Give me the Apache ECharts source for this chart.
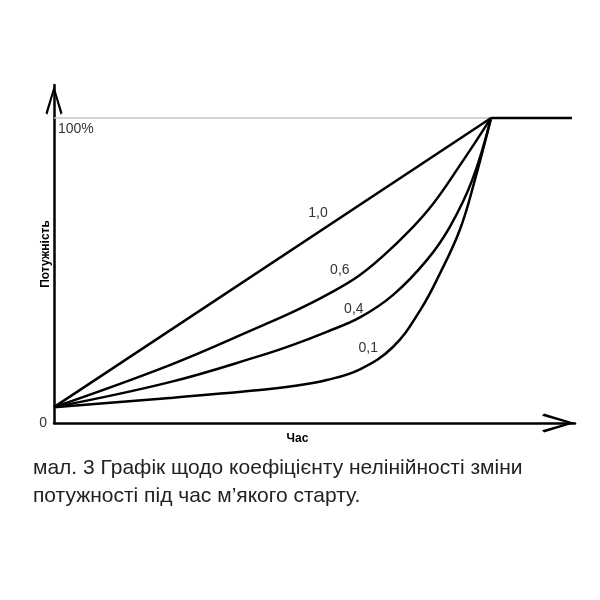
<!DOCTYPE html>
<html>
<head>
<meta charset="utf-8">
<script src="https://cdn.jsdelivr.net/npm/echarts@6/dist/echarts.min.js"></script>
<style>html,body{margin:0;padding:0;background:#fff}#c{width:600px;height:600px}</style>
</head>
<body>
<div id="c"></div>
<script>
// Data (time as % of ramp, power %)
const curve10X = [0, 100];
const curve10Y = [5.2, 100];
const curve06X = [0, 26.5, 47.1, 54.8, 62.4, 70.0, 77.6, 85.6, 93.4, 100];
const curve06Y = [5.2, 19.0, 31.6, 36.5, 42.0, 48.5, 57.8, 69.8, 85.6, 100];
const curve04X = [0, 26.5, 47.1, 54.8, 62.4, 70.0, 77.6, 85.3, 90.6, 95.7, 100];
const curve04Y = [5.2, 13.4, 22.0, 25.7, 29.9, 34.6, 42.0, 53.4, 64.4, 79.7, 100];
const curve01X = [0, 26.5, 47.1, 54.8, 62.4, 70.0, 77.6, 83.8, 88.3, 92.9, 96.3, 100];
const curve01Y = [5.2, 8.2, 10.8, 12.1, 14.1, 17.6, 25.0, 37.0, 49.0, 63.5, 79.7, 100];
const plateauX = [100, 118.5];
const plateauY = [100, 100];
const curveNames = ['1,0', '0,6', '0,4', '0,1'];
const yTickLabels = ['0', '100%'];
const yTickValues = [0, 100];
const xAxisName = 'Час';
const yAxisName = 'Потужність';
const caption = 'мал. 3 Графік щодо коефіцієнту нелінійності зміни\nпотужності під час м’якого старту.';

const labelAnchors = [[60.4, 68.9], [65.4, 50.0], [68.6, 37.2], [71.9, 24.6]];

function zip(xs, ys) { return xs.map((x, i) => [x, ys[i]]); }
const curves = [zip(curve10X, curve10Y), zip(curve06X, curve06Y), zip(curve04X, curve04Y), zip(curve01X, curve01Y)];

const FONT = 'Liberation Sans';
const arrowPath = 'path://M9.5,0 L19,31 L16.8,33 L9.5,7.5 L2.2,33 L0,31 Z';

const series = curves.map((d, i) => {
  const s = {
    type: 'line',
    data: d,
    smooth: i === 0 ? false : 0.4,
    showSymbol: false,
    symbol: 'none',
    clip: false,
    lineStyle: { color: '#000', width: 2.5 },
    z: 5,
    markPoint: {
      symbol: 'circle', symbolSize: 0,
      label: { show: true, position: 'inside', formatter: '{b}', color: '#333', fontSize: 14, fontFamily: FONT },
      data: [{ name: curveNames[i], coord: labelAnchors[i] }]
    }
  };
  if (i === 0) {
    s.markLine = {
      silent: true, symbol: 'none',
      lineStyle: { color: '#c4c4c4', width: 1.5, type: 'solid' },
      label: { show: true, position: 'insideStartBottom', formatter: yTickLabels[1], color: '#333', fontSize: 14, fontFamily: FONT, distance: [4, 4] },
      data: [[{ coord: [0, yTickValues[1]] }, { coord: [100, yTickValues[1]] }]],
      z: 1
    };
  }
  return s;
});
series.push({
  type: 'line', data: zip(plateauX, plateauY), smooth: false, showSymbol: false, symbol: 'none', clip: false,
  lineStyle: { color: '#000', width: 2.5 }, z: 5
});

const chart = echarts.init(document.getElementById('c'), null, { renderer: 'canvas' });
chart.setOption({
  animation: false,
  backgroundColor: '#fff',
  title: {
    text: caption, left: 33, top: 454, padding: 0,
    textStyle: { fontFamily: FONT, fontSize: 21, fontWeight: 'normal', color: '#222', lineHeight: 28 }
  },
  grid: { left: 54, right: 25, top: 85, bottom: 177 },
  xAxis: {
    type: 'value', min: 0, max: 119.2,
    name: xAxisName, nameLocation: 'middle', nameGap: 10, nameMoveOverlap: false,
    nameTextStyle: { fontFamily: FONT, fontSize: 12, fontWeight: 'bold', color: '#000', padding: [0, 34, 0, 0] },
    axisLine: { show: true, lineStyle: { color: '#000', width: 2.5 }, symbol: ['none', arrowPath], symbolSize: [19, 33], symbolOffset: [0, -16.5] },
    axisTick: { show: false }, axisLabel: { show: false }, splitLine: { show: false }
  },
  yAxis: {
    type: 'value', min: 0, max: 110.8, interval: 100,
    name: yAxisName, nameLocation: 'middle', nameGap: 2, nameRotate: 90, nameMoveOverlap: false,
    nameTextStyle: { fontFamily: FONT, fontSize: 12, fontWeight: 'bold', color: '#000' },
    axisLine: { show: true, lineStyle: { color: '#000', width: 2.5 }, symbol: ['none', arrowPath], symbolSize: [17, 30], symbolOffset: [0, -15] },
    axisTick: { show: false }, splitLine: { show: false },
    axisLabel: {
      show: true, margin: 7, color: '#333', fontSize: 14, fontFamily: FONT,
      formatter: v => (v === yTickValues[0] ? yTickLabels[0] : '')
    }
  },
  series: series
});
</script>
</body>
</html>
